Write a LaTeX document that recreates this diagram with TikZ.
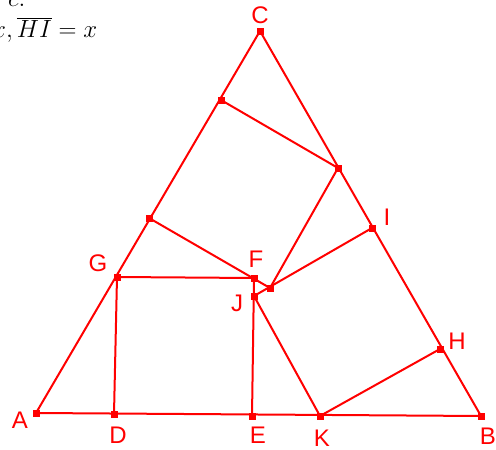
\documentclass[tikz,border=0pt]{standalone}
\usepackage{fontspec}
\newfontfamily\lab{Liberation Sans}
\begin{document}
\begin{tikzpicture}[x=1pt,y=-1pt,
  seg/.style={draw=red,line width=2pt},
  pt/.style={fill=red,minimum size=7pt,inner sep=0pt,outer sep=0pt,rectangle},
  lbl/.style={text=red,font=\lab\fontsize{24}{24}\selectfont,inner sep=0pt},
  hdr/.style={anchor=base west,inner sep=0pt,font=\fontsize{27}{27}\selectfont}]
\useasboundingbox (0,0) rectangle (496,450);
\clip (0,0) rectangle (496,450);
% header text (cropped)
\node[hdr] (t1) at (8,6) {$c.$};
\node[hdr] (t2) at (-8,37) {$x,\overline{HI}=x$};
% points
\coordinate (A) at (36,413);
\coordinate (B) at (481,416);
\coordinate (C) at (260,31);
\coordinate (D) at (114,414);
\coordinate (E) at (252,416);
\coordinate (K) at (320,416);
\coordinate (G) at (117,277);
\coordinate (F) at (254,278);
\coordinate (J) at (254,296);
\coordinate (P) at (270,288);
\coordinate (I) at (372,228);
\coordinate (H) at (440,349);
\coordinate (Q) at (149,218);
\coordinate (R) at (221,100);
\coordinate (S) at (338,168);
% segments
\draw[seg] (A) -- (B) -- (C) -- cycle;
\draw[seg] (G) -- (D);
\draw[seg] (G) -- (F) -- (E);
\draw[seg] (Q) -- (P);
\draw[seg] (R) -- (S) -- (P);
\draw[seg] (I) -- (J) -- (K) -- (H);
% dots
\foreach \p in {A,B,C,D,E,K,G,F,J,P,I,H,Q,R,S} \node[pt] (n\p) at (\p) {};
% labels
\node[lbl] (lC) at (260,15) {C};
\node[lbl] (lG) at (98,263) {G};
\node[lbl] (lF) at (256,259) {F};
\node[lbl] (lJ) at (237,303) {J};
\node[lbl] (lI) at (387,217) {I};
\node[lbl] (lH) at (457,341) {H};
\node[lbl] (lA) at (20,420) {A};
\node[lbl] (lD) at (118,435) {D};
\node[lbl] (lE) at (258,435) {E};
\node[lbl] (lK) at (322,438) {K};
\node[lbl] (lB) at (488,436) {B};
\end{tikzpicture}
\end{document}
